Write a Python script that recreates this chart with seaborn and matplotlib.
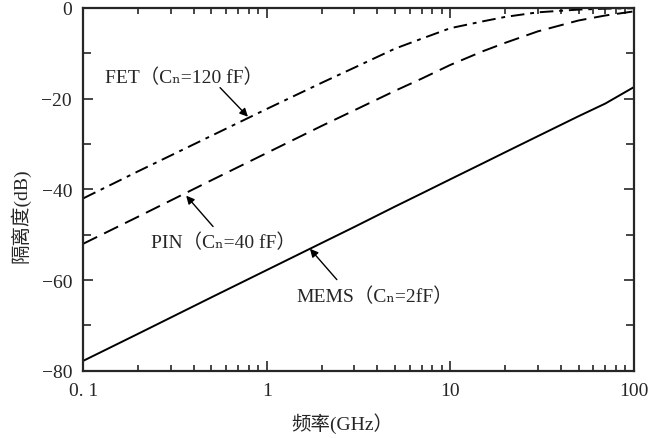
import numpy as np
import pandas as pd
import seaborn as sns
import matplotlib as mpl
import matplotlib.pyplot as plt
from matplotlib.ticker import LogLocator, MultipleLocator, NullFormatter

# values
freq = [0.1, 0.2, 0.5, 1, 2, 3, 5, 7, 10, 15, 20, 30, 50, 70, 100]
fet = [-42, -36, -28.2, -22.3, -16.5, -13.2, -9, -6.8, -4.5, -3, -2, -1, -0.4, -0.2, -0.1]
pin = [-52, -46, -38, -32, -26, -22.6, -18.3, -15.6, -12.6, -9.6, -7.7, -5.2, -2.8, -1.7, -0.8]
mems = [-77.8, -71.8, -63.8, -57.8, -51.8, -48.3, -43.8, -40.9, -37.8, -34.3, -31.8, -28.3, -23.9, -21.1, -17.5]

xtick_vals = [0.1, 1, 10, 100]
xtick_labels = ['0. 1', '1', '10', '100']
ytick_vals = [-80, -60, -40, -20, 0]
ytick_labels = ['\u221280', '\u221260', '\u221240', '\u221220', '0']

sns.set_style('ticks')
plt.rcParams['font.family'] = ['Liberation Serif', 'Noto Sans CJK SC', 'DejaVu Serif']

df = pd.DataFrame({'freq': freq * 3,
                   'iso': fet + pin + mems,
                   'dev': ['FET'] * len(freq) + ['PIN'] * len(freq) + ['MEMS'] * len(freq)})

fig = plt.figure(figsize=(6.5, 4.39), dpi=100)
ax = fig.add_axes([0.128, 0.153, 0.847, 0.827])

styles = {'FET': (0, (7, 3, 2, 3)), 'PIN': (0, (8, 4)), 'MEMS': '-'}
for dev in ['FET', 'PIN', 'MEMS']:
    sub = df[df.dev == dev]
    sns.lineplot(x='freq', y='iso', data=sub, ax=ax, color='black', lw=1.4,
                 linestyle=styles[dev], legend=False)

ax.set_xscale('log')
ax.set_xlim(0.1, 100)
ax.set_ylim(-80, 0)
ax.set_xticks(xtick_vals)
ax.set_xticklabels(xtick_labels)
ax.xaxis.set_minor_locator(LogLocator(base=10, subs=np.arange(2, 10)))
ax.xaxis.set_minor_formatter(NullFormatter())
ax.set_yticks(ytick_vals)
ax.set_yticklabels(ytick_labels)
ax.yaxis.set_minor_locator(MultipleLocator(10))
ax.tick_params(which='both', direction='in', top=True, right=True, labelsize=14, width=1.2)
ax.tick_params(which='major', length=7, pad=8)
ax.tick_params(which='minor', length=4)
ax.tick_params(axis='y', which='minor', length=6)
for s in ax.spines.values():
    s.set_linewidth(1.6)

ax.set_xlabel('频率(GHz）', fontsize=14)
ax.xaxis.set_label_coords(0.47, -0.115)
ax.set_ylabel('隔离度(dB)', fontsize=14)
ax.yaxis.set_label_coords(-0.095, 0.43)

arrow = dict(arrowstyle='-|>', color='black', lw=1.0, mutation_scale=12,
             shrinkA=0, shrinkB=0)
ax.text(0.355, -15.2, 'FET（Cₙ=120 fF）', ha='center', va='center', fontsize=14)
ax.annotate('', xy=(0.79, -24), xytext=(0.557, -17.6), arrowprops=arrow)
ax.text(0.58, -51.5, 'PIN（Cₙ=40 fF）', ha='center', va='center', fontsize=14)
ax.annotate('', xy=(0.364, -41.4), xytext=(0.51, -48.2), arrowprops=arrow)
ax.text(3.9, -63.4, 'MEMS（Cₙ=2fF）', ha='center', va='center', fontsize=14)
ax.annotate('', xy=(1.72, -53.1), xytext=(2.41, -59.9), arrowprops=arrow)

plt.savefig('out.png', dpi=100)
plt.close()
